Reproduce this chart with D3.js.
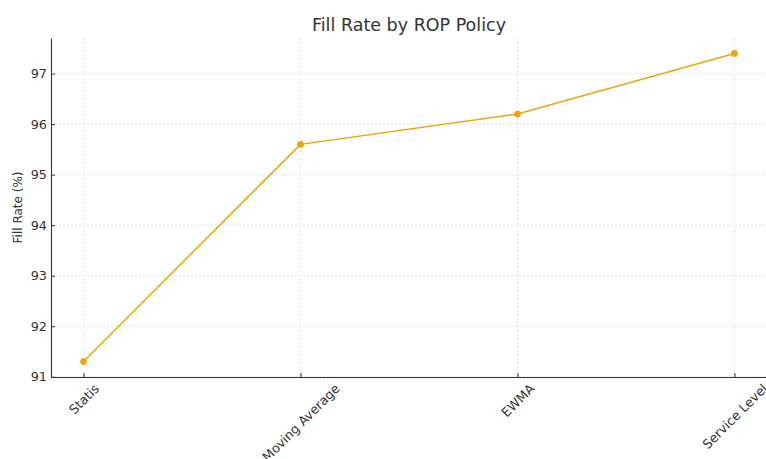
<!DOCTYPE html>
<html>
<head>
<meta charset="utf-8">
<script src="https://cdn.jsdelivr.net/npm/d3@7"></script>
<style>
  body { margin: 0; background: #fff; }
  svg { display: block; font-family: "DejaVu Sans", sans-serif; }
</style>
</head>
<body>
<div class="chart"></div>
<script>
// data
var policies = ["Statis", "Moving Average", "EWMA", "Service Level"];
var fillRates = [91.3, 95.6, 96.2, 97.4];
var yTicks = [91, 92, 93, 94, 95, 96, 97];

var W = 766, H = 459;
var margin = {top: 38, right: -1, bottom: 82, left: 51};
var width = W - margin.left - margin.right,
    height = H - margin.top - margin.bottom;

var svg = d3.select(".chart").append("svg")
    .attr("width", W).attr("height", H);
var g = svg.append("g")
    .attr("transform", "translate(" + margin.left + "," + margin.top + ")");

// matplotlib style 5% margins
var x = d3.scaleLinear().domain([-0.15, 3.15]).range([0, width]);
var y = d3.scaleLinear().domain([90.995, 97.705]).range([height, 0]);

// grid
g.append("g").selectAll("line").data(yTicks).enter().append("line")
    .attr("x1", 0).attr("x2", width)
    .attr("y1", function (d) { return y(d); })
    .attr("y2", function (d) { return y(d); })
    .attr("stroke", "#cfcfcf").attr("stroke-width", 0.6)
    .attr("stroke-dasharray", "2,2");
g.append("g").selectAll("line").data(policies).enter().append("line")
    .attr("x1", function (d, i) { return x(i); })
    .attr("x2", function (d, i) { return x(i); })
    .attr("y1", 0).attr("y2", height)
    .attr("stroke", "#cfcfcf").attr("stroke-width", 0.6)
    .attr("stroke-dasharray", "2,2");

// y axis
var yAxis = g.append("g")
    .call(d3.axisLeft(y).tickValues(yTicks).tickFormat(d3.format("d"))
        .tickSizeInner(-4).tickSizeOuter(0).tickPadding(4));
yAxis.select(".domain").attr("stroke", "#333").attr("stroke-width", 1.1);
yAxis.selectAll(".tick line").attr("stroke", "#333");
yAxis.selectAll("text").attr("font-size", "12.8px").attr("fill", "#333")
    .attr("font-family", "DejaVu Sans");

// x axis
var xAxis = g.append("g")
    .attr("transform", "translate(0," + height + ")")
    .call(d3.axisBottom(x).tickValues([0, 1, 2, 3]).tickSizeInner(-4).tickSizeOuter(0)
        .tickFormat(function (d) { return policies[d]; }));
xAxis.select(".domain").attr("stroke", "#333").attr("stroke-width", 1.1);
xAxis.selectAll(".tick line").attr("stroke", "#333");
xAxis.selectAll("text")
    .attr("font-size", "12.8px").attr("fill", "#333").attr("font-family", "DejaVu Sans")
    .attr("text-anchor", "middle").attr("dy", "0.35em")
    .attr("transform", function () {
      var w = this.getComputedTextLength();
      var h = (w + 12) * Math.SQRT1_2;
      return "translate(0," + (5 + h / 2) + ")rotate(-45)";
    })
    .attr("y", 0);

// line
var line = d3.line()
    .x(function (d, i) { return x(i); })
    .y(function (d) { return y(d); });
g.append("path").datum(fillRates)
    .attr("d", line)
    .attr("fill", "none")
    .attr("stroke", "#f0a30a")
    .attr("stroke-width", 1.5);
g.append("g").selectAll("circle").data(fillRates).enter().append("circle")
    .attr("cx", function (d, i) { return x(i); })
    .attr("cy", function (d) { return y(d); })
    .attr("r", 3.4)
    .attr("fill", "#f0a30a");

// titles
svg.append("text")
    .attr("x", margin.left + width / 2).attr("y", 31)
    .attr("text-anchor", "middle")
    .attr("font-size", "17.5px").attr("fill", "#333")
    .text("Fill Rate by ROP Policy");
svg.append("text")
    .attr("transform", "translate(22," + (margin.top + height / 2) + ")rotate(-90)")
    .attr("text-anchor", "middle")
    .attr("font-size", "12px").attr("fill", "#333")
    .text("Fill Rate (%)");
</script>
</body>
</html>
